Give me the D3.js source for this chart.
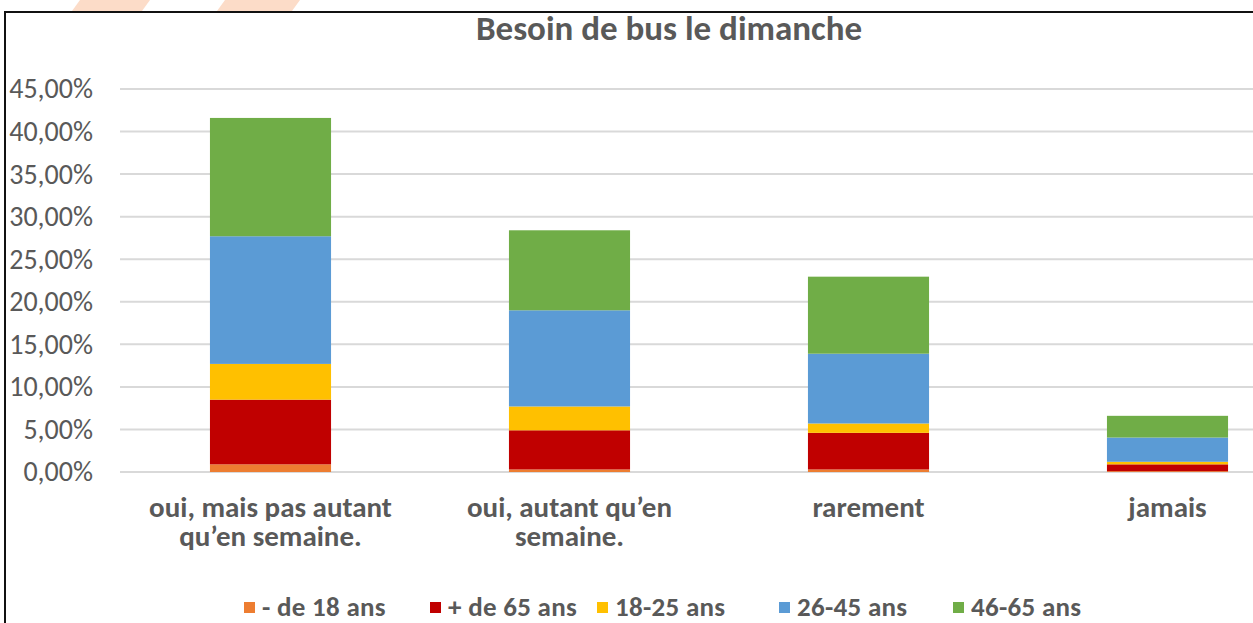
<!DOCTYPE html>
<html>
<head>
<meta charset="utf-8">
<script src="https://cdn.jsdelivr.net/npm/d3@7"></script>
<style>
  body { margin: 0; background: #fff; }
  svg { display: block; font-family: Carlito, "Liberation Sans Narrow", "Liberation Sans", sans-serif; }
</style>
</head>
<body>
<svg width="1253" height="623"></svg>
<script>
// data (percent)
var categories = ["oui, mais pas autant|qu\u2019en semaine.", "oui, autant qu\u2019en|semaine.", "rarement", "jamais"];
var series = ["- de 18 ans", "+ de 65 ans", "18-25 ans", "26-45 ans", "46-65 ans"];
var colors = ["#ED7D31", "#C00000", "#FFC000", "#5B9BD5", "#70AD47"];
var moins18 = [0.9, 0.3, 0.3, 0.1];
var plus65 = [7.6, 4.6, 4.3, 0.8];
var a18_25 = [4.2, 2.8, 1.1, 0.3];
var a26_45 = [15.0, 11.3, 8.2, 2.85];
var a46_65 = [13.9, 9.4, 9.05, 2.55];
var ticks = [0, 5, 10, 15, 20, 25, 30, 35, 40, 45];

var svg = d3.select("svg");

// peach stripes above the frame
svg.append("g").selectAll("path")
  .data([[80, 150], [225, 300]])
  .enter().append("path")
  .attr("d", function(d){ return "M" + d[0] + ",0 L" + d[1] + ",0 L" + (d[1]-8) + ",11 L" + (d[0]-8) + ",11 Z"; })
  .style("fill", "#FCDCC8");

// frame
svg.append("rect")
  .attr("x", 5).attr("y", 12)
  .attr("width", 1260).attr("height", 630)
  .style("fill", "white").style("stroke", "#111").style("stroke-width", 2);

var rows = categories.map(function(c, i){
  return { cat: c, "- de 18 ans": moins18[i], "+ de 65 ans": plus65[i], "18-25 ans": a18_25[i], "26-45 ans": a26_45[i], "46-65 ans": a46_65[i] };
});

var x = d3.scaleBand().domain(categories).range([121, 1317]).paddingInner(0.595).paddingOuter(0.2975);
var y = d3.scaleLinear().domain([0, 45]).range([472, 89]);
var color = d3.scaleOrdinal().domain(series).range(colors);

// gridlines
svg.append("g").selectAll("line")
  .data(ticks)
  .enter().append("line")
  .attr("x1", 120).attr("x2", 1253)
  .attr("y1", function(d){ return y(d); })
  .attr("y2", function(d){ return y(d); })
  .style("stroke", "#d9d9d9").style("stroke-width", 2);

// y axis labels
var yAxis = d3.axisLeft(y).tickValues(ticks).tickSize(0).tickPadding(0)
  .tickFormat(function(d){ return d.toFixed(2).replace(".", ",") + "%"; });
var ya = svg.append("g").attr("transform", "translate(93,0)").call(yAxis);
ya.select(".domain").remove();
ya.selectAll("text").style("font-size", "28px").style("fill", "#595959")
  .style("font-family", "Carlito, 'Liberation Sans Narrow', 'Liberation Sans', sans-serif");

// stacked bars
var stack = d3.stack().keys(series)(rows);
svg.append("g").selectAll("g")
  .data(stack)
  .enter().append("g")
  .style("fill", function(d){ return color(d.key); })
  .selectAll("rect")
  .data(function(d){ return d; })
  .enter().append("rect")
  .attr("x", function(d){ return x(d.data.cat); })
  .attr("width", x.bandwidth())
  .attr("y", function(d){ return y(d[1]); })
  .attr("height", function(d){ return y(d[0]) - y(d[1]); });

// category labels
var cl = svg.append("g").selectAll("text")
  .data(categories)
  .enter().append("text")
  .attr("x", function(d){ return x(d) + x.bandwidth() / 2; })
  .attr("y", 517)
  .attr("text-anchor", "middle")
  .style("font-size", "29px").style("font-weight", "bold").style("fill", "#595959");
cl.each(function(d){
  var parts = d.split("|");
  var t = d3.select(this);
  parts.forEach(function(p, i){
    t.append("tspan").attr("x", x(d) + x.bandwidth() / 2).attr("dy", i === 0 ? 0 : 29).text(p);
  });
});

// title
svg.append("text")
  .attr("x", 669).attr("y", 40)
  .attr("text-anchor", "middle")
  .style("font-size", "35px").style("font-weight", "bold").style("fill", "#595959")
  .text("Besoin de bus le dimanche");

// legend
var legendX = [244, 430, 597, 779, 953];
var lg = svg.append("g").selectAll("g")
  .data(series)
  .enter().append("g")
  .attr("transform", function(d, i){ return "translate(" + legendX[i] + ",602)"; });
lg.append("rect").attr("width", 11).attr("height", 11)
  .style("fill", function(d){ return color(d); });
lg.append("text").attr("x", 18).attr("y", 14)
  .style("font-size", "27px").style("font-weight", "bold").style("fill", "#595959")
  .attr("letter-spacing", "0.3px")
  .text(function(d){ return d; });
</script>
</body>
</html>
